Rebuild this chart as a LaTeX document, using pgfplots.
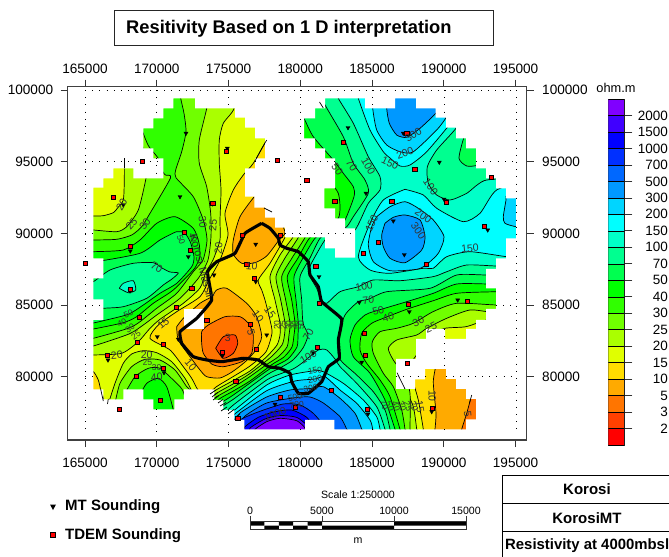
\documentclass[border=0pt]{standalone}
\usepackage{pgfplots}
\pgfplotsset{compat=1.18}
\usepackage{fontspec}
\setmainfont{Liberation Sans}
\newcommand{\fs}[1]{\fontsize{#1bp}{#1bp}\selectfont}
% resistivity classes, named by lower bound
\definecolor{c0}{HTML}{FF0000}\definecolor{c2}{HTML}{FF4000}\definecolor{c3}{HTML}{FF7500}
\definecolor{c5}{HTML}{FFAA00}\definecolor{c10}{HTML}{FFDD00}\definecolor{c15}{HTML}{E0FF00}
\definecolor{c20}{HTML}{AAFF00}\definecolor{c25}{HTML}{70FF00}\definecolor{c30}{HTML}{30FF00}
\definecolor{c40}{HTML}{00FF00}\definecolor{c50}{HTML}{00FF50}\definecolor{c70}{HTML}{00FF90}
\definecolor{c100}{HTML}{00FFC8}\definecolor{c150}{HTML}{00FFFF}\definecolor{c200}{HTML}{00D5FF}
\definecolor{c300}{HTML}{0098FF}\definecolor{c500}{HTML}{0068FF}\definecolor{c700}{HTML}{0030FF}
\definecolor{c1000}{HTML}{0000FF}\definecolor{c1500}{HTML}{4000FF}\definecolor{c2000}{HTML}{8000FF}
% digitised positions are image pixels, calibrated to the map grid here
\pgfplotsset{table/px/.style={header=false,row sep=\\,
  x expr={165000+(\thisrowno{0}-85)*69.67},
  y expr={100000-(\thisrowno{1}-90)*69.77}}}
\pgfplotsset{mapaxis/.style={
  scale only axis,width=459bp,height=353.3bp,
  at={(67.7bp,-440bp)},anchor=south west,
  xmin=163795,xmax=195773,ymin=75580,ymax=100230,
  xtick={165000,170000,175000,180000,185000,190000,195000},
  ytick={80000,85000,90000,95000,100000},
  scaled ticks=false,
  /pgf/number format/.cd,fixed,precision=0,1000 sep={},assume math mode=true,/pgfplots/.cd,
  tick label style={font=\fs{13.6}},
  tick align=outside,major tick length=7bp,
  tick style={black!80,line width=.8bp},
  axis line style={black!75,line width=1.2bp},
}}
\newcommand{\band}[2]{\addplot[fill=#1,draw=black,line width=.7bp,smooth,tension=.4] table[px] {#2};}
\newcommand{\stub}[1]{\addplot[black,line width=.7bp] table[px] {#1};}
\newcommand{\griddots}[1]{\addplot[black,line width=.9bp,dash pattern=on .9bp off 6.3bp] table[px] {#1};}
\newcommand{\lab}[4]{\node[rotate=#3,font=\fs{10.5},text=black!80,inner sep=0pt] at (#1,#2) {#4};}
\newcommand{\labs}[4]{\node[rotate=#3,font=\fs{8.5},text=black!80,inner sep=0pt] at (#1,#2) {#4};}
\begin{document}
\begin{tikzpicture}
\useasboundingbox (0,0) rectangle (669bp,-557bp);
\begin{axis}[mapaxis,xtick pos=bottom,ytick pos=left,xticklabel pos=bottom,yticklabel pos=left,
  x tick label style={yshift=-7bp},y tick label style={xshift=-4bp}]
\addplot[fill=c15,draw=none] table[px] {60 80\\ 535 80\\ 535 450\\ 60 450\\};
% above 20
\band{c20}{85 216\\ 93.3 216\\ 103.3 215.7\\ 113.3 212.7\\ 117.3 208.3\\ 123.3 200\\ 124.3 180\\ 124.3 158.3\\ 124 140\\ 130 110\\ 150 92\\ 225 92\\ 234 108.3\\ 223.3 123.3\\ 219.3 140\\ 219.3 163.3\\ 221 190\\ 220 220\\ 220 240\\ 213 260\\ 206 272\\ 200 288\\ 183.3 303.3\\ 160 319.3\\ 150 328.3\\ 138.3 341.7\\ 121.7 353.3\\ 93.3 355\\ 85 355\\}
\band{c20}{108.3 404\\ 115 383.3\\ 123.3 363.3\\ 131.7 354\\ 143.3 350.7\\ 156.7 352.7\\ 171.7 361.7\\ 185 378.3\\ 191.7 391\\ 194 400\\ 194 414\\ 108 414\\}
\band{c20}{297 150\\ 296 215\\ 295 230\\ 292.7 237.5\\ 280 255\\ 270 276.7\\ 275 300\\ 280 323\\ 280 335\\ 277 345\\ 266.7 356.7\\ 250 371\\ 233.3 380.5\\ 213 392\\ 210 400\\ 212 432\\ 300 433\\ 416.7 433\\ 416.7 429.3\\ 413.3 406.7\\ 405 388.3\\ 396 371.7\\ 408 366\\ 420 350\\ 430 335\\ 445 328.3\\ 466 326.7\\ 486 320\\ 500 318\\ 530 318\\ 530 250\\ 530 92\\ 400 92\\ 300 92\\}
% above 25
\band{c25}{85 230\\ 93.3 230\\ 116.7 231.7\\ 126.7 226.7\\ 138.3 210\\ 146 178.3\\ 147 165\\ 140 130\\ 150 95\\ 206.7 95\\ 206.7 108.3\\ 199.3 140\\ 199.3 163.3\\ 206.7 186.7\\ 210.7 213.3\\ 211 236.7\\ 208 260\\ 198.3 278.3\\ 180 298.3\\ 156.7 315\\ 143.3 325\\ 129 334\\ 93.3 346\\ 85 346\\}
\band{c25}{115 403.3\\ 120 383.3\\ 131.7 366.7\\ 145 359.3\\ 160 360\\ 175 370\\ 186.7 386.7\\ 190.7 391.7\\ 192 414\\ 115 414\\}
\band{c25}{302 150\\ 300 215\\ 299.5 230\\ 298.3 237.5\\ 285 258\\ 276 276.7\\ 280.7 300\\ 285 323\\ 284.5 335\\ 282 345\\ 271 357\\ 250 373.5\\ 233.3 383.8\\ 213 395.5\\ 212 402\\ 212 433\\ 410 433\\ 410 429.3\\ 410 393.3\\ 405 376.7\\ 393.3 360\\ 388.3 348.3\\ 396.7 340\\ 416.7 335\\ 426.7 328.3\\ 446.7 318.3\\ 470 310\\ 493.3 312.3\\ 530 312\\ 530 92\\ 305 92\\}
% above 30
\band{c30}{85 240\\ 93.3 240\\ 116.7 239.3\\ 131.7 235\\ 141.7 226.7\\ 150 213.3\\ 170.5 178\\ 165.3 175\\ 161.7 170\\ 158 158\\ 148 145\\ 140 120\\ 150 92\\ 180.7 92\\ 180.7 98.3\\ 184 113.3\\ 186 131.7\\ 181.7 151.7\\ 175.7 170\\ 176 177.7\\ 193.3 196.7\\ 203.3 220\\ 207 240\\ 203 260\\ 193.3 271.7\\ 176.7 293.3\\ 156.7 308.3\\ 140 321.7\\ 128.3 328.3\\ 93.3 338.3\\ 85 338.3\\}
\band{c30}{125 393.3\\ 135 376.7\\ 148.3 368.3\\ 160 368.3\\ 175 381.7\\ 183.3 391.7\\ 184 414\\ 125 414\\}
\band{c30}{307 150\\ 306 215\\ 305.5 230\\ 305 237.5\\ 292 258\\ 281.7 276.7\\ 285.7 300\\ 290 323\\ 289 335\\ 287 347\\ 278 357\\ 266.7 364.5\\ 250 376.5\\ 233.3 387.3\\ 213 399\\ 212 405\\ 212 433\\ 405 433\\ 405 429.3\\ 401.7 410\\ 393.3 386.7\\ 383.3 373.3\\ 373.3 353.3\\ 372.3 341.7\\ 380 331.7\\ 396.7 328.3\\ 413.3 323.3\\ 433 311.7\\ 456.7 303.3\\ 496.7 305\\ 530 305\\ 530 92\\ 310 92\\}
% above 40
\band{c40}{85 251.7\\ 93.3 251.7\\ 123.3 250\\ 140 240\\ 156.7 223.3\\ 175 216.7\\ 193.3 228.3\\ 199 243\\ 200 256\\ 198 262\\ 193.3 270\\ 173.3 290\\ 153.3 303.3\\ 136.7 316.7\\ 123.3 322.7\\ 93.3 329\\ 85 329\\}
\band{c40}{140 395\\ 146.7 383.3\\ 158.3 378.3\\ 166.7 386.7\\ 173.3 410\\ 173 416\\ 140 416\\}
\band{c40}{297 125\\ 320 170\\ 330.7 182.3\\ 338.3 193.3\\ 340 206.7\\ 338.3 218.3\\ 325 230\\ 310 237.5\\ 298 258\\ 287.3 276.7\\ 291.7 300\\ 295 323\\ 294 335\\ 292 347\\ 284 357\\ 272 364.5\\ 250 381\\ 233.3 391\\ 218 400\\ 216 410\\ 216 433\\ 400 433\\ 400 429.3\\ 390 396.7\\ 380 380\\ 366.7 363.3\\ 360 350\\ 361.7 333.3\\ 371.7 323.3\\ 383.3 318.3\\ 406.7 309.3\\ 433.3 300.7\\ 456.7 293.3\\ 496.7 291.7\\ 530 291\\ 530 92\\ 295 92\\}
% above 50
\band{c50}{85 262\\ 96 261.7\\ 140 253.3\\ 160 240\\ 176.7 231.7\\ 185 233.3\\ 190.7 243\\ 194 257\\ 191.7 266.7\\ 176.7 283.3\\ 160 293.3\\ 143.3 305\\ 128.3 314.3\\ 103.3 320.7\\ 93 323\\ 85 323\\}
\band{c50}{297 92\\ 300 112\\ 304 118.3\\ 313.3 136.7\\ 333.3 160\\ 343.3 173.3\\ 353.3 186.7\\ 354 196.7\\ 343.3 223.3\\ 330 232\\ 315.7 237.5\\ 303 258\\ 294 276.7\\ 296 300\\ 298.3 323\\ 298 335\\ 297 347\\ 288 359\\ 275 366\\ 266.7 371\\ 233.3 395\\ 218 405\\ 216 412\\ 216 433\\ 395 433\\ 395 429.3\\ 385 400\\ 370 373.3\\ 353.3 356.7\\ 350 340\\ 355 325\\ 365 315\\ 373.3 311.7\\ 390 306.7\\ 406.7 301.7\\ 433.3 293.3\\ 456.7 284\\ 490 284\\ 530 284\\ 530 92\\}
% above 70
\band{c70}{85 282\\ 93.3 281.7\\ 110 270\\ 133.3 263.3\\ 153.3 262.7\\ 162 268\\ 170 272\\ 178.3 273\\ 172 279\\ 163.3 285\\ 146.7 298.3\\ 123.3 306.7\\ 103.3 308.3\\ 85 310\\}
\band{c70}{323 92\\ 323.3 101.7\\ 343.3 136.7\\ 353.3 163.3\\ 365 180\\ 368.3 193.3\\ 353.3 216.7\\ 346.7 226.7\\ 335 233\\ 320.7 237.5\\ 310 258\\ 300 276.7\\ 301.7 300\\ 303 323\\ 308 335\\ 303 348\\ 293 360\\ 280 368\\ 266.7 375\\ 233.3 399.3\\ 220 408\\ 218 414\\ 218 433\\ 390 433\\ 390 429.3\\ 385 410\\ 373.3 391.7\\ 356.7 375\\ 339.3 358.3\\ 338.3 336.7\\ 345 315\\ 358.3 301.7\\ 368.3 299.3\\ 386.7 291.7\\ 430 288.3\\ 456.7 275\\ 486.7 275\\ 530 275\\ 530 92\\}
% above 100
\band{c100}{119.3 288.3\\ 123.3 283.3\\ 133.3 280.7\\ 135.7 290\\ 128.3 292.7\\ 119.3 288.3\\}
\band{c100}{338 92\\ 338.3 98.3\\ 353.3 123.3\\ 368.3 156.7\\ 380 176.7\\ 380 190\\ 368.3 203.3\\ 355 230\\ 340 234\\ 326.7 238\\ 316 255\\ 308.3 271.7\\ 316.7 288.3\\ 321.7 300\\ 326.7 303.3\\ 340 291.7\\ 358.3 286.7\\ 373 280\\ 400 280.7\\ 433 276.7\\ 446.7 271.7\\ 466.7 265\\ 496.7 266\\ 530 266\\ 530 185\\ 486.7 180\\ 466.7 193.3\\ 450 200\\ 436.7 195\\ 428.3 183.3\\ 427.3 166.7\\ 436.7 150\\ 456 128.3\\ 462 115\\ 462 92\\}
\band{c100}{220 418\\ 233.3 405\\ 266.7 380\\ 280 374\\ 293 369\\ 301.7 363.3\\ 318.3 350\\ 326.7 350\\ 335 359\\ 340 366.7\\ 356.7 383.3\\ 376.7 406.7\\ 385 429.3\\ 385 433\\ 218 433\\}
% above 150
\band{c150}{358 92\\ 358.3 98.3\\ 370 130\\ 383.3 151.7\\ 390 158\\ 400 166\\ 410 165\\ 426.7 151.7\\ 451 122.7\\ 458 110\\ 458 92\\}
\band{c150}{405 189.3\\ 383.3 200\\ 370 223.3\\ 358.3 256.7\\ 370 270\\ 390 273.3\\ 423.3 268.3\\ 433.3 268.3\\ 446.7 256.7\\ 470 251.7\\ 506.7 256.7\\ 530 258\\ 530 185\\ 496.7 190\\ 480 213.3\\ 463.3 221.7\\ 436.7 208.3\\ 423.3 195\\ 405 189.3\\}
\band{c150}{225 417\\ 233.3 411\\ 266.7 385\\ 290 375\\ 315 370.7\\ 323.3 371.7\\ 343.3 383.3\\ 363.3 400\\ 376.7 416.7\\ 380 429.3\\ 380 433\\ 222 433\\}
% above 200
\band{c200}{372.7 92\\ 372.7 108.3\\ 376.7 130\\ 386.7 145\\ 400 151.7\\ 413 152\\ 436.7 130\\ 446 117.7\\ 452 105\\ 452 92\\}
\band{c200}{376.7 216.7\\ 390 206.7\\ 405 201.7\\ 418.3 208.3\\ 433.3 220\\ 444 236.7\\ 438.3 253.3\\ 426 265\\ 416.7 269.3\\ 390 270.7\\ 373.3 261.7\\ 368.3 245\\ 371.7 226.7\\ 376.7 216.7\\}
\band{c200}{506 196\\ 506 200\\ 503.3 216.7\\ 505 223.3\\ 516 226.7\\ 530 228\\ 530 190\\}
\band{c200}{228 420\\ 236 413\\ 266.7 390.7\\ 295 381\\ 315 379\\ 325 376.7\\ 340 390\\ 356.7 403.3\\ 370 420\\ 372.7 429.3\\ 372.7 433\\ 226 433\\}
% above 300
\band{c300}{386.7 92\\ 386.7 108.3\\ 389.3 123.3\\ 396.7 135\\ 406.7 137.3\\ 420 128.3\\ 436.7 112.3\\ 442 102\\ 442 92\\}
\band{c300}{385 223.3\\ 393.3 217.3\\ 405 215\\ 420 220\\ 425 236.7\\ 421.7 250\\ 405 262.7\\ 390 258.3\\ 383.3 246.7\\ 381.7 235\\ 385 223.3\\}
\band{c300}{232 424\\ 240 413\\ 266.7 397\\ 290 390\\ 310 388.5\\ 323.3 386.7\\ 340 398.3\\ 355 413.3\\ 361.7 429.3\\ 361.7 433\\ 230 433\\}
% south high, 500 to 2000
\band{c500}{238 426\\ 245 416\\ 266.7 403\\ 295 397.7\\ 310 397\\ 323.3 403\\ 340 416.7\\ 346.7 429.3\\ 346.7 433\\ 236 433\\}
\band{c700}{235 430\\ 240 420\\ 258 412\\ 283 404\\ 300 405\\ 313.3 413.3\\ 326.7 429.3\\ 326.7 433\\}
\band{c1000}{243 433\\ 245 426.7\\ 258.3 417.3\\ 275 411.7\\ 291.7 410\\ 306.7 417.3\\ 316 430\\ 316 433\\}
\band{c1500}{250 433\\ 250 428\\ 265 419\\ 280 415.5\\ 297 417.5\\ 310 428\\ 310 433\\}
\band{c2000}{255 433\\ 255 429.3\\ 266.7 421.7\\ 280 418.3\\ 296.7 420.7\\ 305 428\\ 305 433\\}
% pockets of low values
\band{c50}{470 130\\ 464 137.3\\ 459 158.3\\ 466.7 166\\ 477.3 165.3\\ 485 160\\ 485 130\\}
\band{c10}{270 135\\ 266.7 140\\ 253.3 163.3\\ 243.3 175\\ 233.3 190\\ 225 213.3\\ 228 235\\ 220 260\\ 209 280\\ 200 296.7\\ 176.7 311.7\\ 158.3 325\\ 150 338.3\\ 170 350\\ 183.3 366.7\\ 191.7 378.3\\ 198 390\\ 206 396\\ 216 387\\ 233.3 376.5\\ 250 366\\ 266 351.7\\ 272 333\\ 270 320\\ 265 300\\ 261.7 290\\ 258.3 280\\ 270 263.3\\ 285 237.3\\ 290 222\\ 280 180\\}
\band{c10}{85 371.7\\ 93.3 371.7\\ 98.3 380\\ 100.7 390\\ 103 400\\ 85 400\\}
\band{c10}{410 375\\ 414 385\\ 418.3 400\\ 421 415\\ 423.3 429.3\\ 423.3 435\\ 485 435\\ 485 360\\ 440 352\\}
\band{c5}{176.7 326.7\\ 178.3 340\\ 190 356.7\\ 200 370\\ 206.7 376.7\\ 220 378\\ 232 372\\ 245 362\\ 256 350\\ 261.7 336.7\\ 256.7 316.7\\ 246.7 303.3\\ 226.7 288.3\\ 216.7 290\\ 211.7 296.7\\ 200 303.3\\ 183.3 318.3\\ 176.7 326.7\\}
\band{c5}{262 190\\ 254.3 196.7\\ 240 216.7\\ 233.3 240\\ 233.3 254\\ 241.7 263.3\\ 255 262.7\\ 266.7 256\\ 278.3 241\\ 285 232\\ 275 210\\}
\band{c5}{438 352\\ 436.7 361.7\\ 433.3 381.7\\ 436 413.3\\ 435 429.3\\ 435 435\\ 485 435\\ 485 355\\}
\band{c3}{201.7 343.3\\ 201.7 331.7\\ 208.3 325\\ 225 316.7\\ 240 316.7\\ 248.3 323.3\\ 253.3 335\\ 251.7 353.3\\ 241.7 361.7\\ 223.3 366.7\\ 211.7 364\\ 203.3 353.3\\ 201.7 343.3\\}
\band{c3}{473 390\\ 471.7 395\\ 466.7 413.3\\ 461.7 429.3\\ 461 435\\ 485 435\\ 485 390\\}
\band{c2}{215.7 348.3\\ 223.3 336.7\\ 235 335\\ 237.7 343.3\\ 233.3 353.3\\ 223.3 358.3\\ 215.7 348.3\\}
% everything outside the gridded area is white
\addplot[fill=white,draw=none,even odd rule] table[px] {173.3 98.3\\ 195 98.3\\ 195 108.3\\ 235 108.3\\ 235 117.7\\ 245 117.7\\ 245 127.7\\ 255 127.7\\ 255 138.3\\ 265 138.3\\ 265 158.3\\ 255 158.3\\ 255 168.3\\ 245 168.3\\ 245 196.7\\ 254.3 196.7\\ 254.3 207.7\\ 265 207.7\\ 265 217.7\\ 275 217.7\\ 275 227.7\\ 285 227.7\\ 285 237.3\\ 325 237.3\\ 325 248.3\\ 335 248.3\\ 335 257.7\\ 355 257.7\\ 355 228.3\\ 345 228.3\\ 345 218.3\\ 335 218.3\\ 335 208.3\\ 324.3 208.3\\ 324.3 188.3\\ 335 188.3\\ 335 158.3\\ 325 158.3\\ 325 148.3\\ 315 148.3\\ 315 138.3\\ 304 138.3\\ 304 118.3\\ 315 118.3\\ 315 108.3\\ 325 108.3\\ 325 98.3\\ 365 98.3\\ 365 108.3\\ 372.3 108.3\\ 395 108.3\\ 395 98.3\\ 416 98.3\\ 416 108.3\\ 435.7 108.3\\ 435.7 117.7\\ 446 117.7\\ 446 127.7\\ 456 127.7\\ 456 138.3\\ 466 138.3\\ 466 148.3\\ 476 148.3\\ 476 168.3\\ 486 168.3\\ 486 178.3\\ 496 178.3\\ 496 188.3\\ 506 188.3\\ 506 198.3\\ 516 198.3\\ 516 238.3\\ 506 238.3\\ 506 258.3\\ 496 258.3\\ 496 269\\ 486 269\\ 486 288.3\\ 496 288.3\\ 496 309\\ 486 309\\ 486 320\\ 476 320\\ 476 329\\ 466 329\\ 466 339\\ 445 339\\ 445 329\\ 426 329\\ 426 339\\ 416 339\\ 416 359\\ 396 359\\ 396 389\\ 415 389\\ 415 379.3\\ 425 379.3\\ 425 369\\ 446 369\\ 446 379\\ 456 379\\ 456 389\\ 466 389\\ 466 399\\ 476 399\\ 476 419.3\\ 466 419.3\\ 466 429.3\\ 334.3 429.3\\ 334.3 420\\ 305 420\\ 305 429.3\\ 244.3 429.3\\ 244.3 420\\ 234.3 420\\ 234.3 410\\ 223.3 410\\ 223.3 400\\ 214.3 400\\ 214.3 389.3\\ 184 389.3\\ 184 399.3\\ 174.3 399.3\\ 174.3 409.3\\ 153.3 409.3\\ 153.3 399.3\\ 143.3 399.3\\ 143.3 389.3\\ 123.3 389.3\\ 123.3 399.3\\ 103.3 399.3\\ 103.3 389.3\\ 93.3 389.3\\ 93.3 320\\ 103.3 320\\ 103.3 299.3\\ 93.3 299.3\\ 93.3 278.3\\ 103.3 278.3\\ 103.3 258.3\\ 93.3 258.3\\ 93.3 187.7\\ 103.3 187.7\\ 103.3 178.3\\ 113.3 178.3\\ 113.3 168.3\\ 133.3 168.3\\ 133.3 178.3\\ 163.3 178.3\\ 163.3 158.3\\ 153.3 158.3\\ 153.3 148.3\\ 143.3 148.3\\ 143.3 128.3\\ 153.3 128.3\\ 153.3 118.3\\ 163.3 118.3\\ 163.3 108.3\\ 173.3 108.3\\ 173.3 98.3\\ 173.3 80\\ 60 80\\ 60 450\\ 535 450\\ 535 80\\ 173.3 80\\};
\addplot[fill=white,draw=none] table[px] {184 309.3\\ 204 309.3\\ 204 329.3\\ 184 329.3\\};
% dotted grid, only where the map leaves it visible
\griddots{85 90\\ 516.3 90\\}
\griddots{85 90\\ 85 432\\}
\griddots{516.3 90\\ 516.3 432\\}
\griddots{156.8 90\\ 156.8 118.3\\}\griddots{156.8 158.3\\ 156.8 178.3\\}\griddots{156.8 409.3\\ 156.8 432\\}
\griddots{228.5 90\\ 228.5 108.3\\}\griddots{228.5 410\\ 228.5 432\\}
\griddots{300.7 90\\ 300.7 237.3\\}\griddots{300.7 429.3\\ 300.7 432\\}
\griddots{372.3 90\\ 372.3 108.3\\}\griddots{372.3 429.3\\ 372.3 432\\}
\griddots{444.3 90\\ 444.3 117.7\\}\griddots{444.3 329\\ 444.3 369\\}\griddots{444.3 429.3\\ 444.3 432\\}
\griddots{85 161.7\\ 163.3 161.7\\}\griddots{255 161.7\\ 335 161.7\\}\griddots{476 161.7\\ 516.3 161.7\\}
\griddots{85 233.3\\ 93.3 233.3\\}\griddots{285 233.3\\ 355 233.3\\}
\griddots{85 305\\ 103.3 305\\}\griddots{496 305\\ 516.3 305\\}
\griddots{85 376.7\\ 93.3 376.7\\}\griddots{396 376.7\\ 425 376.7\\}\griddots{446 376.7\\ 516.3 376.7\\}
% contour ends that run past the grid
\stub{124.3 168.3\\ 124.3 158.3\\}
\stub{255 161\\ 262 148\\ 266.7 140\\}
\stub{323.3 108\\ 319.5 102\\}
\stub{100.7 389.3\\ 103.3 401\\}
\stub{108.3 399\\ 107.5 404\\}
\stub{397 372.7\\ 405 389\\}
\stub{471.7 395\\ 469.5 403\\}
\stub{216 390\\ 210 394\\}\stub{218 392.5\\ 212 397\\}\stub{218.5 396\\ 213 400\\}
\stub{223 399.5\\ 218 403\\}\stub{226 402.5\\ 220 406\\}\stub{227 407\\ 221 411\\}
\stub{234 409.5\\ 228 414\\}\stub{240 414\\ 235 419\\}
\stub{264 208\\ 272 212\\}
% survey boundary
\addplot[black,line width=3.1bp,line join=round,smooth,tension=.2] table[px] {261.7 223.3\\ 270 228.3\\ 278.3 238.3\\ 280 245\\ 286.7 248.3\\ 298.3 251.7\\ 308.3 261.7\\ 310 275\\ 318.3 286.7\\ 321.7 301.7\\ 341.7 319\\ 338.3 340\\ 339.3 358.3\\ 328.3 366.7\\ 321.7 381.7\\ 308.3 393.3\\ 298.3 393.3\\ 291.7 381.7\\ 290 373.3\\ 280 368.3\\ 268.3 366.7\\ 258.3 360\\ 243.3 358.3\\ 221.7 361.7\\ 206.7 360\\ 193.3 356.7\\ 181.7 343.3\\ 180 331.7\\ 196.7 318.3\\ 211.7 300\\ 207.5 272\\ 216.7 261.7\\ 235 253.3\\ 245 233.3\\ 261.7 223.3\\};
% MT soundings
\addplot[only marks,mark=triangle*,mark size=2.3bp,mark options={rotate=180,black,fill=black}] table[px] {186 133.3\\ 227.3 148.3\\ 123.3 205\\ 180 196.7\\ 212.7 204\\ 130.3 251\\ 188.3 256.7\\ 255.7 244.3\\ 214 275\\ 255.7 281.7\\ 348 127.7\\ 403.3 133.3\\ 439.3 162.3\\ 444 199.3\\ 366 193.3\\ 393.3 221\\ 404.3 254.7\\ 487.7 230\\ 130 291\\ 108 360\\ 157.3 336.7\\ 178.3 339.3\\ 222.3 356\\ 266.7 335\\ 164 372.7\\ 275 404.3\\ 319 276.7\\ 359.3 302.3\\ 409.3 311.7\\ 457.7 300\\ 361.7 362.3\\ 313.3 352.7\\ 368 414\\ 431.7 411.7\\};
% TDEM soundings
\addplot[only marks,mark=square*,mark size=2.1bp,mark options={draw=black,fill=red,line width=.6bp}] table[px] {142.7 161\\ 277.3 160.3\\ 226 151.3\\ 113 197.3\\ 212.7 203\\ 184 232.7\\ 130.3 246.7\\ 190.3 250.7\\ 85 263.3\\ 242 235.3\\ 280 235\\ 246.7 264.7\\ 306.7 180.3\\ 343.3 142.7\\ 406.7 133.7\\ 414.7 169.7\\ 491 177.7\\ 334.7 201.7\\ 391.7 201.7\\ 446.3 202.7\\ 484 226.7\\ 378.3 242.7\\ 363 253.7\\ 426.3 264.7\\ 315.7 266\\ 130 289.3\\ 191.7 288\\ 176 307.7\\ 139 317\\ 206.7 320\\ 250.3 324.3\\ 137.3 342\\ 163.7 344.7\\ 107.3 355.3\\ 222.3 352.3\\ 256 349.3\\ 163.3 368.7\\ 136.3 376.7\\ 235.7 381\\ 160 400.3\\ 119.3 409\\ 237.7 418.3\\ 280 397.3\\ 295.3 407.7\\ 254.3 278.3\\ 319.3 303.3\\ 408.3 304.3\\ 467 301.7\\ 364 333.7\\ 365.3 355.7\\ 407.3 363.3\\ 317 347.3\\ 331.3 390\\ 367 409\\ 432.3 408\\};
\end{axis}
% same frame again, for the labels on the top and right
\begin{axis}[mapaxis,xtick pos=top,ytick pos=right,xticklabel pos=top,yticklabel pos=right,
  x tick label style={yshift=3bp},y tick label style={xshift=5bp}]
\end{axis}
% colour key
\begin{axis}[scale only axis,width=16bp,height=346bp,at={(608.3bp,-445bp)},anchor=south west,
  xmin=0,xmax=1,ymin=0,ymax=21,xtick=\empty,
  ytick={1,2,3,4,5,6,7,8,9,10,11,12,13,14,15,16,17,18,19,20},
  yticklabels={2,3,5,10,15,20,25,30,40,50,70,100,150,200,300,500,700,1000,1500,2000},
  ytick pos=right,yticklabel pos=right,tick align=outside,major tick length=8bp,
  tick style={black!80,line width=.7bp},axis line style={black!80,line width=.9bp},
  y tick label style={font=\fs{13.5},anchor=east,xshift=39bp}]
\addplot[fill=c0,draw=black] coordinates {(0,0)(1,0)(1,1)(0,1)};
\addplot[fill=c2,draw=black] coordinates {(0,1)(1,1)(1,2)(0,2)};
\addplot[fill=c3,draw=black] coordinates {(0,2)(1,2)(1,3)(0,3)};
\addplot[fill=c5,draw=black] coordinates {(0,3)(1,3)(1,4)(0,4)};
\addplot[fill=c10,draw=black] coordinates {(0,4)(1,4)(1,5)(0,5)};
\addplot[fill=c15,draw=black] coordinates {(0,5)(1,5)(1,6)(0,6)};
\addplot[fill=c20,draw=black] coordinates {(0,6)(1,6)(1,7)(0,7)};
\addplot[fill=c25,draw=black] coordinates {(0,7)(1,7)(1,8)(0,8)};
\addplot[fill=c30,draw=black] coordinates {(0,8)(1,8)(1,9)(0,9)};
\addplot[fill=c40,draw=black] coordinates {(0,9)(1,9)(1,10)(0,10)};
\addplot[fill=c50,draw=black] coordinates {(0,10)(1,10)(1,11)(0,11)};
\addplot[fill=c70,draw=black] coordinates {(0,11)(1,11)(1,12)(0,12)};
\addplot[fill=c100,draw=black] coordinates {(0,12)(1,12)(1,13)(0,13)};
\addplot[fill=c150,draw=black] coordinates {(0,13)(1,13)(1,14)(0,14)};
\addplot[fill=c200,draw=black] coordinates {(0,14)(1,14)(1,15)(0,15)};
\addplot[fill=c300,draw=black] coordinates {(0,15)(1,15)(1,16)(0,16)};
\addplot[fill=c500,draw=black] coordinates {(0,16)(1,16)(1,17)(0,17)};
\addplot[fill=c700,draw=black] coordinates {(0,17)(1,17)(1,18)(0,18)};
\addplot[fill=c1000,draw=black] coordinates {(0,18)(1,18)(1,19)(0,19)};
\addplot[fill=c1500,draw=black] coordinates {(0,19)(1,19)(1,20)(0,20)};
\addplot[fill=c2000,draw=black] coordinates {(0,20)(1,20)(1,21)(0,21)};
\end{axis}
\begin{scope}[x=1bp,y=-1bp]
% contour labels
\lab{121.7}{205}{60}{20}\lab{131.7}{224}{50}{25}\lab{145}{224}{55}{30}
\lab{202.7}{222}{-85}{30}\lab{213}{225}{85}{25}\lab{218.5}{248}{85}{20}
\labs{181}{240}{-70}{50}\labs{193}{238}{-70}{40}\lab{156.7}{267}{-30}{70}
\lab{251.7}{266}{-5}{10}
\lab{413.3}{135}{35}{300}\lab{405}{153.3}{20}{200}\lab{390}{163.3}{-25}{150}
\lab{368.3}{166}{-60}{100}\lab{351.7}{165}{-55}{70}\lab{337.3}{169.3}{-55}{50}
\lab{430.7}{186.7}{-55}{100}\lab{423.3}{216}{-35}{200}\lab{418.3}{230.7}{-55}{300}
\lab{371.7}{223.3}{65}{150}\lab{470}{248.3}{5}{150}
\lab{227.7}{338.3}{0}{3}\lab{251}{332.7}{-75}{5}\lab{258}{316.7}{-55}{10}\lab{270}{312.3}{-55}{15}
\lab{163.3}{323.3}{40}{15}\labs{128.3}{314}{25}{50}\labs{122}{323}{30}{40}
\labs{130}{328}{35}{30}\labs{136}{335}{35}{25}\lab{116.7}{355}{5}{20}\lab{146.7}{355}{0}{20}
\labs{147.3}{362.5}{5}{25}\labs{156.7}{367.5}{0}{30}\lab{156.7}{377.3}{5}{40}\lab{190.7}{365}{-50}{10}
\labs{277}{325}{90}{20}\labs{283}{325}{90}{25}\labs{289}{325}{90}{30}\labs{295}{325}{90}{40}\labs{301}{325}{90}{50}
\lab{308.3}{335}{60}{70}\lab{308.3}{356.7}{30}{100}\labs{315}{370.7}{10}{150}\labs{315}{379.3}{10}{200}
\labs{310.7}{388.3}{10}{300}\labs{295}{397}{10}{500}\labs{296.7}{404.5}{5}{700}\lab{275}{414.3}{20}{1000}
\lab{364}{286.7}{10}{100}\lab{368.3}{300}{5}{70}\lab{378.3}{310.7}{15}{50}\lab{388.3}{317.3}{15}{40}
\lab{418.3}{321.7}{25}{30}\lab{431}{327.5}{25}{25}
\lab{432.3}{396}{-90}{10}\lab{420}{406.7}{-80}{15}\lab{467.7}{414}{-85}{5}
\labs{384}{405}{-65}{70}\labs{390}{406}{-70}{50}\labs{396}{406}{-70}{40}\labs{402}{406}{-70}{30}\labs{408}{406}{-70}{25}\labs{414}{406}{-70}{20}
\node[rotate=-75,font=\fs{11},text=black!85,inner sep=0pt] at (202,266) {Korosi Massif};
% title box
\draw[black!85,line width=1bp] (114.3,10.3) rectangle (493.3,45);
\node[anchor=west,font=\fs{18.3}\bfseries,inner sep=0pt] at (126,29) {Resitivity Based on 1 D interpretation};
\node[font=\fs{12.8},inner sep=0pt] at (616,88) {ohm.m};
% legend
\fill (50,504.5) -- (56,504.5) -- (53,510) -- cycle;
\filldraw[fill=red,draw=black,line width=.6bp] (50.5,532.5) rectangle (55.5,537.5);
\node[anchor=west,font=\fs{15}\bfseries,inner sep=0pt] at (65,507) {MT Sounding};
\node[anchor=west,font=\fs{15}\bfseries,inner sep=0pt] at (65,535.5) {TDEM Sounding};
% scale bar
\node[font=\fs{10.6},inner sep=0pt] at (358,495) {Scale 1:250000};
\node[font=\fs{10.6},inner sep=0pt] at (250,510.5) {0};
\node[font=\fs{10.6},inner sep=0pt] at (322,510.5) {5000};
\node[font=\fs{10.6},inner sep=0pt] at (394,510.5) {10000};
\node[font=\fs{10.6},inner sep=0pt] at (466,510.5) {15000};
\node[font=\fs{10.6},inner sep=0pt] at (358,541) {m};
\fill (250,521.7) rectangle (264.4,525.5) (278.8,521.7) rectangle (293.2,525.5) (307.6,521.7) rectangle (322,525.5);
\fill (264.4,525.5) rectangle (278.8,529.3) (293.2,525.5) rectangle (307.6,529.3);
\fill (322,525.5) rectangle (394,529.3) (394,521.7) rectangle (466,525.5);
\draw[black!80,line width=.7bp] (250,521.7) rectangle (466,529.3);
\draw[black!80,line width=.7bp] (250,516) -- (250,521.7) (322,516) -- (322,521.7) (394,516) -- (394,521.7) (466,516) -- (466,521.7);
% title block, runs off the page as in the source map
\draw[black,line width=1bp] (502,565) -- (502,475) -- (680,475) (502,503.3) -- (680,503.3) (502,531.7) -- (680,531.7);
\node[font=\fs{15}\bfseries,inner sep=0pt] at (587,489.5) {Korosi};
\node[font=\fs{15}\bfseries,inner sep=0pt] at (587,518) {KorosiMT};
\node[anchor=west,font=\fs{14.9}\bfseries,inner sep=0pt] at (505,546) {Resistivity at 4000mbsl};
\end{scope}
\end{tikzpicture}
\end{document}
